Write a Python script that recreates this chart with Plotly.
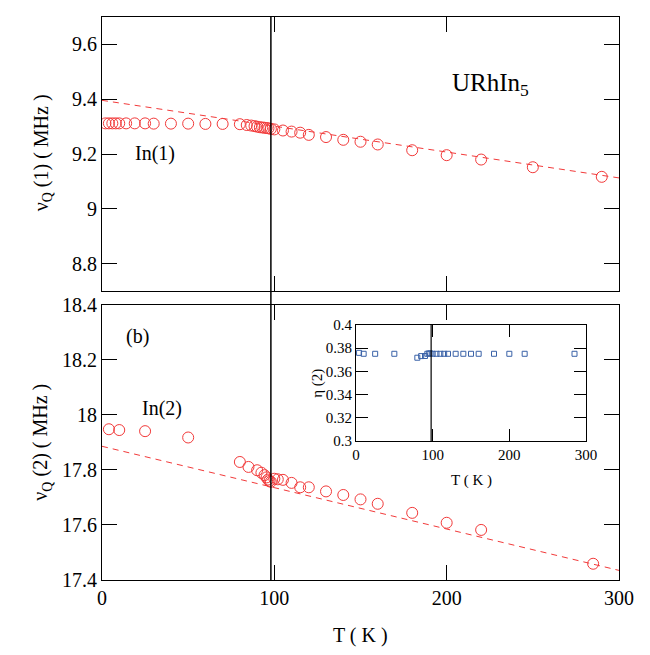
import plotly.graph_objects as go

# ---------------- data ----------------
T1 = [2, 4, 6, 8, 10, 14, 19, 25, 30, 40, 50, 60, 70, 80, 84, 86.6, 88.5, 90, 91.6, 93,
      94.3, 95.5, 96.6, 98, 100, 105, 110, 115, 120, 130, 140, 150, 160, 180, 200, 220, 250, 290]
nuQ1 = [9.312, 9.312, 9.312, 9.312, 9.312, 9.312, 9.312, 9.312, 9.311, 9.311, 9.311, 9.310, 9.310,
        9.309, 9.306, 9.304, 9.302, 9.300, 9.298, 9.297, 9.296, 9.295, 9.294, 9.292, 9.290, 9.286,
        9.282, 9.278, 9.270, 9.262, 9.252, 9.245, 9.235, 9.214, 9.196, 9.180, 9.152, 9.117]
fit1_T = [0, 300]
fit1_v = [9.396, 9.113]

T2 = [4, 10, 25, 50, 80, 85, 90, 92.5, 94.3, 95.5, 96.3, 97.2, 98, 100, 102, 105, 110, 115, 120,
      130, 140, 150, 160, 180, 200, 220, 285]
nuQ2 = [17.948, 17.945, 17.941, 17.918, 17.829, 17.811, 17.799, 17.790, 17.781, 17.773, 17.765,
        17.760, 17.757, 17.768, 17.766, 17.764, 17.753, 17.737, 17.737, 17.722, 17.709, 17.693,
        17.677, 17.644, 17.608, 17.582, 17.459]
fit2_T = [0, 300]
fit2_v = [17.886, 17.435]

T_eta = [4, 10, 25, 50, 80, 85, 90, 93, 95, 97, 100, 105, 110, 115, 120, 130, 140, 150, 160,
         180, 200, 220, 285]
eta2 = [0.376, 0.3752, 0.3752, 0.3752, 0.3718, 0.3732, 0.3733, 0.3752, 0.3755, 0.3755, 0.3752,
        0.3752, 0.3752, 0.3752, 0.3752, 0.3752, 0.3752, 0.3752, 0.3752, 0.3752, 0.3752, 0.3752,
        0.3752]

T_transition = 98

x_ticks = [0, 100, 200, 300]
y1_ticks = [8.8, 9.0, 9.2, 9.4, 9.6]
y1_labels = ["8.8", "9", "9.2", "9.4", "9.6"]
y2_ticks = [17.4, 17.6, 17.8, 18.0, 18.2, 18.4]
y2_labels = ["17.4", "17.6", "17.8", "18", "18.2", "18.4"]
y3_ticks = [0.3, 0.32, 0.34, 0.36, 0.38, 0.4]
y3_labels = ["0.3", "0.32", "0.34", "0.36", "0.38", "0.4"]

# ---------------- style ----------------
RED = "#f23a3a"
BLUE = "#3a62a8"
FONT = "Times New Roman, Liberation Serif, serif"

fig = go.Figure()

circ = dict(symbol="circle-open", size=11, color=RED, line=dict(width=1, color=RED))
dash = dict(color=RED, width=1, dash="6px,5px")

fig.add_trace(go.Scatter(x=fit1_T, y=fit1_v, mode="lines", line=dash, xaxis="x", yaxis="y",
                         showlegend=False, hoverinfo="skip"))
fig.add_trace(go.Scatter(x=T1, y=nuQ1, mode="markers", marker=circ, xaxis="x", yaxis="y",
                         showlegend=False))
fig.add_trace(go.Scatter(x=fit2_T, y=fit2_v, mode="lines", line=dash, xaxis="x2", yaxis="y2",
                         showlegend=False, hoverinfo="skip"))
fig.add_trace(go.Scatter(x=T2, y=nuQ2, mode="markers", marker=circ, xaxis="x2", yaxis="y2",
                         showlegend=False))
fig.add_trace(go.Scatter(x=T_eta, y=eta2, mode="markers",
                         marker=dict(symbol="square-open", size=5, color=BLUE,
                                     line=dict(width=1, color=BLUE)),
                         xaxis="x3", yaxis="y3", showlegend=False))

ax_common = dict(showline=True, linecolor="black", linewidth=1, mirror="ticks",
                 ticks="inside", ticklen=15, tickwidth=1, tickcolor="black",
                 showgrid=False, zeroline=False,
                 tickfont=dict(family=FONT, size=20, color="black"))

inset_common = dict(showline=True, linecolor="black", linewidth=1, mirror="ticks",
                    ticks="inside", ticklen=12, tickwidth=1, tickcolor="black",
                    showgrid=False, zeroline=False,
                    tickfont=dict(family=FONT, size=15, color="black"))

L, R, T, B = 102, 31, 6, 75
W, H = 650, 655
pw, ph = W - L - R, H - T - B


def px(xp):
    return (xp - L) / pw


def py(yp):
    return (H - B - yp) / ph


fig.update_layout(
    width=W, height=H,
    margin=dict(l=L, r=R, t=T, b=B),
    font=dict(family=FONT, size=20, color="black"),
    paper_bgcolor="white", plot_bgcolor="white",
    showlegend=False,
    xaxis=dict(ax_common, domain=[0, 1], range=[0, 300], tickvals=x_ticks,
               showticklabels=False, anchor="y"),
    yaxis=dict(ax_common, domain=[py(285.5), 1], range=[8.7, 9.7], tickvals=y1_ticks,
               ticktext=y1_labels, anchor="x"),
    xaxis2=dict(ax_common, domain=[0, 1], range=[0, 300], tickvals=x_ticks, anchor="y2"),
    yaxis2=dict(ax_common, domain=[0, py(299.5)], range=[17.4, 18.4], tickvals=y2_ticks,
                ticktext=y2_labels, anchor="x2"),
    xaxis3=dict(inset_common, domain=[px(356), px(586)], range=[0, 300], tickvals=x_ticks,
                anchor="y3"),
    yaxis3=dict(inset_common, domain=[py(438.4), py(320)], range=[0.3, 0.4],
                tickvals=y3_ticks, ticktext=y3_labels, anchor="x3"),
)

fig.add_shape(type="line", xref="x2", yref="paper", x0=T_transition, x1=T_transition,
              y0=0, y1=1, line=dict(color="black", width=1.5))
fig.add_shape(type="line", xref="x3", yref="y3", x0=T_transition, x1=T_transition,
              y0=0.3, y1=0.4, line=dict(color="black", width=1.2))


def ann(text, xp, yp, size=20, angle=0):
    fig.add_annotation(text=text, x=px(xp), y=py(yp), xref="paper", yref="paper",
                       showarrow=False, textangle=angle, xanchor="center", yanchor="middle",
                       font=dict(family=FONT, size=size, color="black"))


ann("URhIn<sub>5</sub>", 490, 75, size=25)
ann("In(1)", 155, 145)
ann("In(2)", 162, 405)
ann("(b)", 137, 332)
ann("ν<sub>Q</sub> (1) ( MHz )", 42, 145, angle=-90)
ann("ν<sub>Q</sub> (2) ( MHz )", 42, 440, angle=-90)
ann("T ( K )", 360.5, 637)
ann("η (2)", 318, 380, size=15, angle=-90)
ann("T ( K )", 471, 479, size=15)

fig.write_html("out.html")
